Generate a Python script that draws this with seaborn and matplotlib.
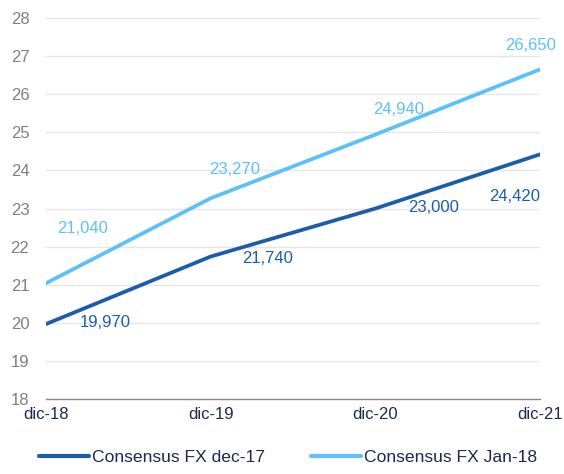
import matplotlib
matplotlib.use("Agg")
import matplotlib.pyplot as plt
import seaborn as sns
import pandas as pd

categories = ["dic-18", "dic-19", "dic-20", "dic-21"]
dec17 = [19.970, 21.740, 23.000, 24.420]
jan18 = [21.040, 23.270, 24.940, 26.650]
series_names = ["Consensus FX dec-17", "Consensus FX Jan-18"]
yticks = [18, 19, 20, 21, 22, 23, 24, 25, 26, 27, 28]

dark = "#1B5DAB"
light = "#5BC1F7"
navy = "#1C2B4D"

sns.set_theme(style="white")
plt.rcParams["font.family"] = ["Liberation Sans", "DejaVu Sans"]

df = pd.DataFrame({
    "x": list(range(len(categories))) * 2,
    "value": dec17 + jan18,
    "series": [series_names[0]] * 4 + [series_names[1]] * 4,
})

fig = plt.figure(figsize=(5.64, 4.74), dpi=100)
ax = fig.add_axes([0.0816, 0.158, 0.8755, 0.804])

sns.lineplot(data=df, x="x", y="value", hue="series",
             palette=[dark, light], linewidth=2.7, ax=ax, legend=True)

ax.set_xlim(0, len(categories) - 1)
ax.set_ylim(18, 28)
ax.set_yticks(yticks)
ax.set_yticklabels([str(t) for t in yticks], color="#7F7F7F", fontsize=12)
ax.set_xticks(range(len(categories)))
ax.set_xticklabels(categories, color=navy, fontsize=12)
ax.tick_params(axis="y", length=0, pad=12)
ax.tick_params(axis="x", length=0, pad=6)
ax.grid(axis="y", color="#E6E6E6", linewidth=1)
ax.set_axisbelow(True)
ax.set_xlabel("")
ax.set_ylabel("")
for s in ["top", "right", "left"]:
    ax.spines[s].set_visible(False)
ax.spines["bottom"].set_color("#888888")
ax.spines["bottom"].set_linewidth(1)

dark_off = [(59, 2), (57, -2), (58, 1), (-25, -42)]
light_off = [(37, 55), (24, 29), (23, 25), (-9, 24)]
for i, v in enumerate(dec17):
    ax.annotate(f"{v:,.3f}".replace(".", ","), xy=(i, v), xytext=dark_off[i],
                textcoords="offset pixels", ha="center", va="center",
                color=dark, fontsize=12)
for i, v in enumerate(jan18):
    ax.annotate(f"{v:,.3f}".replace(".", ","), xy=(i, v), xytext=light_off[i],
                textcoords="offset pixels", ha="center", va="center",
                color=light, fontsize=12)

handles, labels = ax.get_legend_handles_labels()
ax.legend(handles, labels, loc="upper center", bbox_to_anchor=(0.49, -0.115),
          ncol=2, frameon=False, fontsize=12.6, handlelength=2.85,
          columnspacing=2.6, handletextpad=0.2, labelcolor=navy,
          borderaxespad=0)
for line in ax.get_legend().get_lines():
    line.set_linewidth(3)

fig.savefig("out.png", dpi=100)
